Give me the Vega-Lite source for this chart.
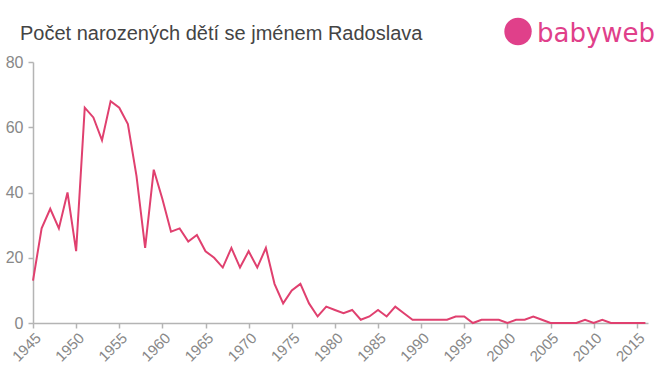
{
  "$schema": "https://vega.github.io/schema/vega-lite/v6.json",
  "width": 615,
  "height": 261,
  "autosize": {"type": "none"},
  "padding": {"left": 33, "top": 62, "right": 12, "bottom": 52},
  "background": "white",
  "config": {"view": {"stroke": null}},
  "data": {"values": [
    {"year": 1945, "count": 13}, {"year": 1946, "count": 29}, {"year": 1947, "count": 35}, {"year": 1948, "count": 29},
    {"year": 1949, "count": 40}, {"year": 1950, "count": 22}, {"year": 1951, "count": 66}, {"year": 1952, "count": 63},
    {"year": 1953, "count": 56}, {"year": 1954, "count": 68}, {"year": 1955, "count": 66}, {"year": 1956, "count": 61},
    {"year": 1957, "count": 45}, {"year": 1958, "count": 23}, {"year": 1959, "count": 47}, {"year": 1960, "count": 38},
    {"year": 1961, "count": 28}, {"year": 1962, "count": 29}, {"year": 1963, "count": 25}, {"year": 1964, "count": 27},
    {"year": 1965, "count": 22}, {"year": 1966, "count": 20}, {"year": 1967, "count": 17}, {"year": 1968, "count": 23},
    {"year": 1969, "count": 17}, {"year": 1970, "count": 22}, {"year": 1971, "count": 17}, {"year": 1972, "count": 23},
    {"year": 1973, "count": 12}, {"year": 1974, "count": 6}, {"year": 1975, "count": 10}, {"year": 1976, "count": 12},
    {"year": 1977, "count": 6}, {"year": 1978, "count": 2}, {"year": 1979, "count": 5}, {"year": 1980, "count": 4},
    {"year": 1981, "count": 3}, {"year": 1982, "count": 4}, {"year": 1983, "count": 1}, {"year": 1984, "count": 2},
    {"year": 1985, "count": 4}, {"year": 1986, "count": 2}, {"year": 1987, "count": 5}, {"year": 1988, "count": 3},
    {"year": 1989, "count": 1}, {"year": 1990, "count": 1}, {"year": 1991, "count": 1}, {"year": 1992, "count": 1},
    {"year": 1993, "count": 1}, {"year": 1994, "count": 2}, {"year": 1995, "count": 2}, {"year": 1996, "count": 0},
    {"year": 1997, "count": 1}, {"year": 1998, "count": 1}, {"year": 1999, "count": 1}, {"year": 2000, "count": 0},
    {"year": 2001, "count": 1}, {"year": 2002, "count": 1}, {"year": 2003, "count": 2}, {"year": 2004, "count": 1},
    {"year": 2005, "count": 0}, {"year": 2006, "count": 0}, {"year": 2007, "count": 0}, {"year": 2008, "count": 0},
    {"year": 2009, "count": 1}, {"year": 2010, "count": 0}, {"year": 2011, "count": 1}, {"year": 2012, "count": 0},
    {"year": 2013, "count": 0}, {"year": 2014, "count": 0}, {"year": 2015, "count": 0}, {"year": 2016, "count": 0}
  ]},
  "layer": [
    {
      "mark": {"type": "line", "color": "#e0406f", "strokeWidth": 2, "clip": false},
      "encoding": {
        "x": {"field": "year", "type": "quantitative",
              "scale": {"domain": [1945, 2016.3], "nice": false, "zero": false},
              "axis": {"title": null, "values": [1945,1950,1955,1960,1965,1970,1975,1980,1985,1990,1995,2000,2005,2010,2015],
                       "format": "d", "labelAngle": -45, "labelAlign": "right", "labelBaseline": "top", "labelFontSize": 15,
                       "labelFont": "Liberation Sans", "labelColor": "#888888", "domainColor": "#b4b4b4", "domainWidth": 1.5,
                       "tickColor": "#b4b4b4", "tickWidth": 1.5, "tickSize": 5, "grid": false, "labelPadding": 2, "labelOverlap": false, "labelFlush": false}},
        "y": {"field": "count", "type": "quantitative",
              "scale": {"domain": [0, 80], "nice": false},
              "axis": {"title": null, "values": [0,20,40,60,80], "labelFontSize": 16, "labelFont": "Liberation Sans",
                       "labelColor": "#888888", "domainColor": "#b4b4b4", "domainWidth": 1.5, "tickColor": "#b4b4b4",
                       "tickWidth": 1.5, "tickSize": 5, "grid": false, "labelPadding": 5}}
      }
    },
    {
      "data": {"values": [{"label": "Počet narozených dětí se jménem Radoslava"}]},
      "mark": {"type": "text", "font": "Liberation Sans", "fontSize": 20, "color": "#444444", "align": "left", "baseline": "alphabetic", "clip": false},
      "encoding": {"text": {"field": "label"}, "x": {"datum": 1943.49}, "y": {"datum": 86.74}}
    },
    {
      "data": {"values": [{"label": "babyweb"}]},
      "mark": {"type": "text", "font": "DejaVu Sans", "fontSize": 26, "color": "#e0408a", "align": "left", "baseline": "alphabetic", "clip": false},
      "encoding": {"text": {"field": "label"}, "x": {"datum": 2003.43}, "y": {"datum": 86.22}}
    },
    {
      "data": {"values": [{"label": "logo"}]},
      "mark": {"type": "point", "shape": "circle", "filled": true, "size": 750, "color": "#e0408a", "opacity": 1, "clip": false},
      "encoding": {"x": {"datum": 2001.23}, "y": {"datum": 89.35}}
    }
  ]
}
